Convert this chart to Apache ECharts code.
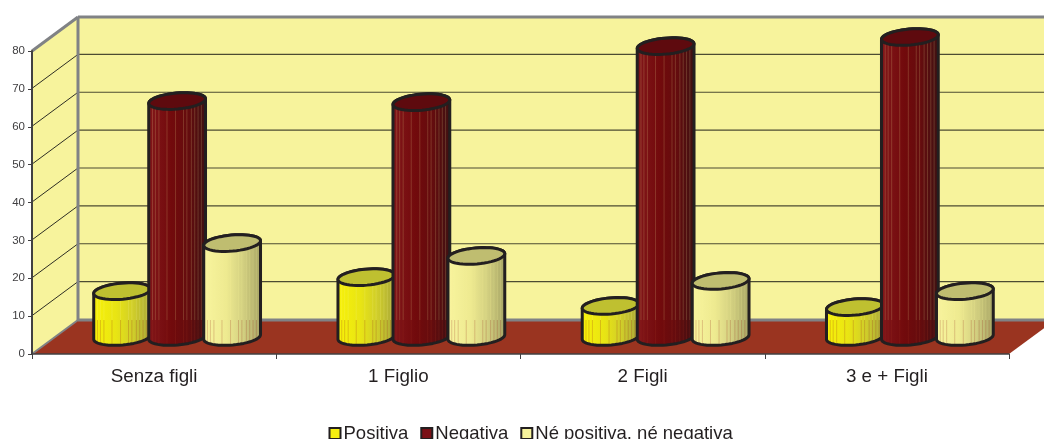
<!DOCTYPE html>
<html><head><meta charset="utf-8">
<style>html,body{margin:0;padding:0;background:#fff;overflow:hidden}#c{width:1044px;height:439px}</style>
<script src="https://cdn.jsdelivr.net/npm/echarts@6/dist/echarts.min.js"></script>
</head><body><div id="c"></div>
<script>
const categories = ['Senza figli', '1 Figlio', '2 Figli', '3 e + Figli'];
const yTicks = [0, 10, 20, 30, 40, 50, 60, 70, 80];
const positiva = [12.1, 15.8, 8.2, 7.9];
const negativa = [62.3, 62.0, 76.8, 79.2];
const neutra = [24.8, 21.4, 14.8, 12.1];

const DX = 46, DY = -34;
const WALL = '#f7f39c', FLOOR = '#9a3420', EDGE = '#808285', INK = '#231f20';
const STRIPES = [.06,.11,.17,.31,.46,.6,.66,.74,.8,.86,.92];
const TILT = -5 * Math.PI / 180, RA = 28.5, RB = 8;

function pt(c, t) {
  const x = RA * Math.cos(t), y = RB * Math.sin(t);
  return [c[0] + x * Math.cos(TILT) - y * Math.sin(TILT), c[1] + x * Math.sin(TILT) + y * Math.cos(TILT)];
}
function ellipse(c) { const p = []; for (let i = 0; i < 48; i++) p.push(pt(c, i / 48 * 2 * Math.PI)); return p; }

function wall(params, api) {
  const band = api.size([1, 0])[0], o = api.coord([0, 0]);
  const x0 = o[0] - band / 2, y0 = o[1], yT = api.coord([0, yTicks[yTicks.length - 1]])[1];
  const x1 = x0 + band * categories.length;
  const kids = [];
  const poly = (pts, fill) => kids.push({ type: 'polygon', shape: { points: pts }, style: { fill } });
  const line = (a, b, stroke, lineWidth) => kids.push({ type: 'line', shape: { x1: a[0], y1: a[1], x2: b[0], y2: b[1] }, style: { stroke, lineWidth } });
  poly([[x0 + DX, yT + DY], [x1 + DX, yT + DY], [x1 + DX, y0 + DY], [x0 + DX, y0 + DY]], WALL);
  poly([[x0, y0], [x0 + DX, y0 + DY], [x0 + DX, yT + DY], [x0, yT]], WALL);
  poly([[x0, y0], [x0 + DX, y0 + DY], [x1 + DX, y0 + DY], [x1, y0]], FLOOR);
  yTicks.slice(1, -1).forEach(v => {
    const y = api.coord([0, v])[1] - 0.5;
    line([x0, y], [x0 + DX, y + DY], '#2e2e24', 1);
    line([x0 + DX, y + DY], [x1 + DX, y + DY], '#4c4b32', 1.2);
  });
  line([x0, yT], [x0 + DX, yT + DY], EDGE, 3);
  line([x0 + DX, yT + DY], [x1 + DX, yT + DY], EDGE, 3);
  line([x0 + DX, yT + DY], [x0 + DX, y0 + DY], EDGE, 3);
  line([x0 + DX, y0 + DY], [x1 + DX, y0 + DY], EDGE, 3);
  line([x0, y0], [x0 + DX, y0 + DY], EDGE, 2);
  return { type: 'group', children: kids };
}

function cylinder(shift, grad, cap) {
  return function (params, api) {
    const idx = api.value(0), top = api.coord([idx, api.value(1)]), base = api.coord([idx, 0]);
    const cx = base[0] + DX / 2 + shift;
    const tc = [cx, top[1] + DY / 2], bc = [cx, base[1] + DY / 2];
    const floorY = base[1] + DY;
    const outline = [];
    for (let i = 0; i <= 24; i++) outline.push(pt(bc, i / 24 * Math.PI));
    for (let i = 0; i <= 24; i++) outline.push(pt(tc, Math.PI + i / 24 * Math.PI));
    const kids = [{
      type: 'polygon', shape: { points: outline },
      style: { fill: new echarts.graphic.LinearGradient(0, 0, 1, 0, grad), stroke: null }
    }];
    STRIPES.forEach(f => {
      const t = Math.acos(2 * f - 1), a = pt(tc, t), b = pt(bc, t);
      const mid = Math.max(a[1], Math.min(b[1], floorY));
      if (mid > a[1]) kids.push({ type: 'line', shape: { x1: a[0], y1: a[1], x2: a[0], y2: mid }, style: { stroke: 'rgba(247,243,156,.18)', lineWidth: 1 } });
      if (b[1] > mid) kids.push({ type: 'line', shape: { x1: a[0], y1: mid, x2: a[0], y2: b[1] }, style: { stroke: 'rgba(154,52,32,.24)', lineWidth: 1 } });
    });
    kids.push({ type: 'polygon', shape: { points: outline }, style: { fill: 'none', stroke: INK, lineWidth: 3, lineJoin: 'round' } });
    kids.push({ type: 'polygon', shape: { points: ellipse(tc) }, style: { fill: cap, stroke: INK, lineWidth: 3 } });
    return { type: 'group', children: kids };
  };
}
const stops = (a, b, c, d) => [{ offset: 0, color: a }, { offset: .4, color: b }, { offset: .7, color: c }, { offset: 1, color: d }];
const rows = vals => vals.map((v, i) => [i, v]);
const cyl = (name, vals, shift, fill, grad, cap) => ({
  name, type: 'custom', z: 4, data: rows(vals), encode: { x: 0, y: 1 },
  itemStyle: { color: fill, borderColor: INK, borderWidth: 2.5 },
  renderItem: cylinder(shift, grad, cap), silent: true
});

const chart = echarts.init(document.getElementById('c'), null, { renderer: 'canvas' });
chart.setOption({
  animation: false,
  backgroundColor: '#fff',
  textStyle: { fontFamily: '"Liberation Sans", Arial, sans-serif' },
  grid: { left: 32, right: 35, top: 51, bottom: 85, containLabel: false },
  legend: {
    left: 328.5, top: 424, icon: 'rect', itemWidth: 11, itemHeight: 11, itemGap: 12,
    padding: 0, selectedMode: false,
    data: ['Positiva', 'Negativa', 'Né positiva, né negativa'],
    textStyle: { fontSize: 18.5, color: INK, padding: [1, 0, 0, -2] }
  },
  xAxis: {
    type: 'category', data: categories, z: 3,
    axisLine: { lineStyle: { color: '#414042', width: 1.5 } },
    axisTick: { show: true, length: 5, lineStyle: { color: '#414042', width: 1 } },
    axisLabel: { fontSize: 18.8, color: INK, margin: 13 },
    splitLine: { show: false }
  },
  yAxis: {
    type: 'value', min: 0, max: 80, interval: 10, z: 3,
    axisLine: { show: true, lineStyle: { color: '#414042', width: 2 } },
    axisTick: { show: true, length: 4, lineStyle: { color: '#414042', width: 1 } },
    axisLabel: { fontSize: 11.5, color: '#414042', margin: 7 },
    splitLine: { show: false }
  },
  series: [
    { name: 'pareti', type: 'custom', z: 1, data: [[0, 0]], encode: { x: 0, y: 1 }, renderItem: wall, silent: true },
    cyl('Positiva', positiva, -55, '#f5ee10', stops('#f8f208', '#e8e414', '#cfcd2a', '#a9a838'), '#bfc030'),
    cyl('Negativa', negativa, 0, '#7a1016', stops('#82161a', '#720a0c', '#640c0e', '#3f1012'), '#5e0a0e'),
    cyl('Né positiva, né negativa', neutra, 55, '#f7f39c', stops('#f8f49e', '#eeea90', '#d2cf80', '#a8a666'), '#bfbd70')
  ]
});
</script></body></html>
